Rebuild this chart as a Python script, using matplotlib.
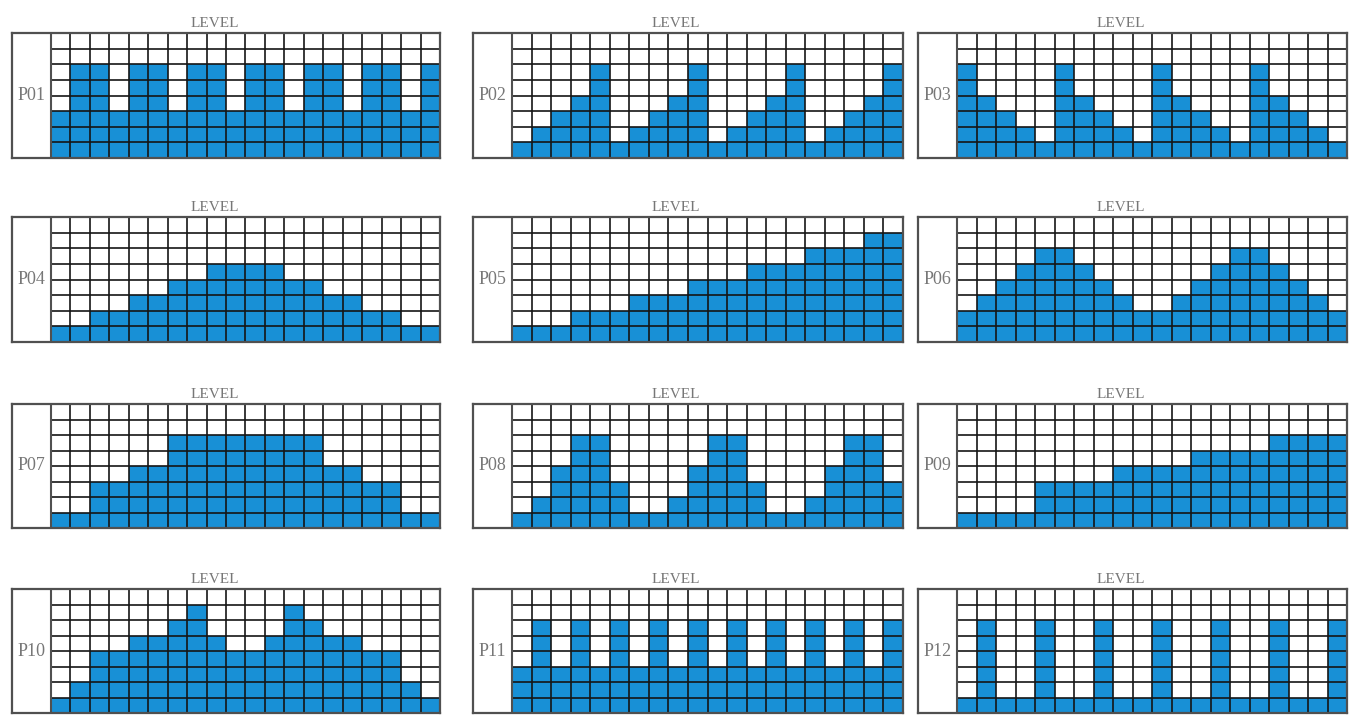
import matplotlib
matplotlib.use("Agg")
import matplotlib.pyplot as plt

# ---- data: filled levels (0-8) for 20 steps in each pattern ----
labels = ["P01", "P02", "P03", "P04", "P05", "P06",
          "P07", "P08", "P09", "P10", "P11", "P12"]
p01 = [3, 6, 6, 3, 6, 6, 3, 6, 6, 3, 6, 6, 3, 6, 6, 3, 6, 6, 3, 6]
p02 = [1, 2, 3, 4, 6, 1, 2, 3, 4, 6, 1, 2, 3, 4, 6, 1, 2, 3, 4, 6]
p03 = [6, 4, 3, 2, 1, 6, 4, 3, 2, 1, 6, 4, 3, 2, 1, 6, 4, 3, 2, 1]
p04 = [1, 1, 2, 2, 3, 3, 4, 4, 5, 5, 5, 5, 4, 4, 3, 3, 2, 2, 1, 1]
p05 = [1, 1, 1, 2, 2, 2, 3, 3, 3, 4, 4, 4, 5, 5, 5, 6, 6, 6, 7, 7]
p06 = [2, 3, 4, 5, 6, 6, 5, 4, 3, 2, 2, 3, 4, 5, 6, 6, 5, 4, 3, 2]
p07 = [1, 1, 3, 3, 4, 4, 6, 6, 6, 6, 6, 6, 6, 6, 4, 4, 3, 3, 1, 1]
p08 = [1, 2, 4, 6, 6, 3, 1, 1, 2, 4, 6, 6, 3, 1, 1, 2, 4, 6, 6, 3]
p09 = [1, 1, 1, 1, 3, 3, 3, 3, 4, 4, 4, 4, 5, 5, 5, 5, 6, 6, 6, 6]
p10 = [1, 2, 4, 4, 5, 5, 6, 7, 5, 4, 4, 5, 7, 6, 5, 5, 4, 4, 2, 1]
p11 = [3, 6, 3, 6, 3, 6, 3, 6, 3, 6, 3, 6, 3, 6, 3, 6, 3, 6, 3, 6]
p12 = [1, 6, 1, 1, 6, 1, 1, 6, 1, 1, 6, 1, 1, 6, 1, 1, 6, 1, 1, 6]
patterns = [p01, p02, p03, p04, p05, p06, p07, p08, p09, p10, p11, p12]
header = "LEVEL"
n_levels = 8

W, H = 1356, 717
fig = plt.figure(figsize=(W / 100, H / 100), dpi=100)
fig.patch.set_facecolor("white")

BLUE = "#1890d6"
GRID = "#151515"
BORDER = "#505050"
TEXT = "#777777"

col_x = [(12, 440), (473, 903), (918, 1347)]
row_y = [(33, 158), (217, 342), (404, 528), (589, 713)]

for i, (lab, vals) in enumerate(zip(labels, patterns)):
    r, c = divmod(i, 3)
    x0, x1 = col_x[c]
    yt, yb = row_y[r]
    ax = fig.add_axes([x0 / W, 1 - yb / H, (x1 - x0) / W, (yb - yt) / H])
    n = len(vals)
    ax.set_xlim(-2, n)
    ax.set_ylim(0, n_levels)
    ax.bar(range(n), vals, width=1.0, align="edge", color=BLUE,
           linewidth=0, zorder=1)
    ax.vlines(range(1, n), 0, n_levels, colors=GRID, linewidth=1.2, zorder=2)
    ax.hlines(range(1, n_levels), 0, n, colors=GRID, linewidth=1.2, zorder=2)
    ax.vlines([0], 0, n_levels, colors=BORDER, linewidth=1.5, zorder=3)
    for s in ax.spines.values():
        s.set_color(BORDER)
        s.set_linewidth(1.6)
    ax.set_xticks([])
    ax.set_yticks([])
    ax.text(-1, n_levels / 2, lab, ha="center", va="center",
            fontsize=13, color=TEXT, family="Liberation Serif")
    ax.annotate(header, xy=(8.4, 1), xycoords=("data", "axes fraction"),
                xytext=(0, 4), textcoords="offset points",
                ha="center", va="baseline", fontsize=11, color=TEXT,
                family="Liberation Serif")

fig.savefig("out.png", dpi=100, facecolor="white")
